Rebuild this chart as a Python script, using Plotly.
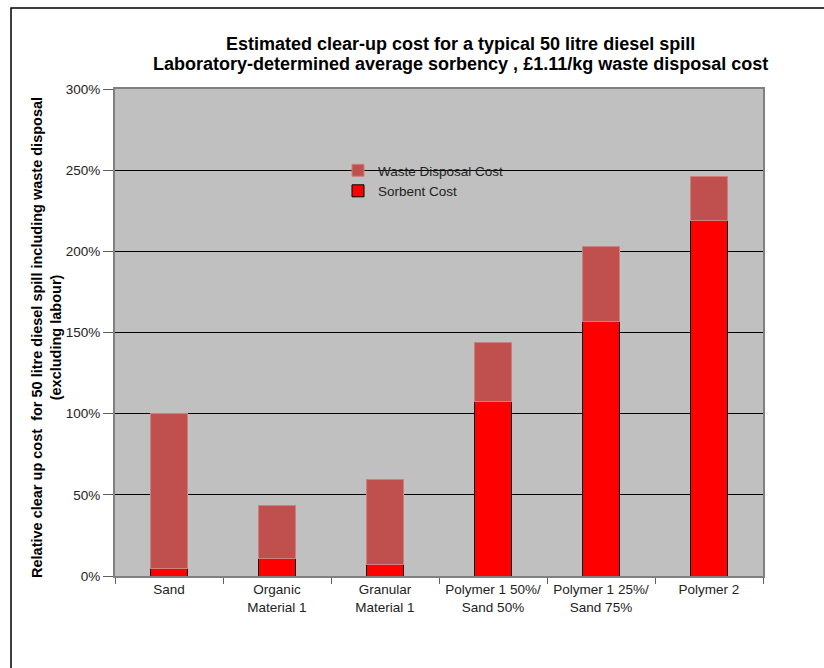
import plotly.graph_objects as go

categories = ["Sand", "Organic<br>Material 1", "Granular<br>Material 1",
              "Polymer 1 50%/<br>Sand 50%", "Polymer 1 25%/<br>Sand 75%", "Polymer 2"]
sorbent_cost = [4.5, 10.7, 7.0, 107.2, 156.6, 219.3]
waste_disposal_cost = [95.5, 32.9, 52.7, 36.8, 46.1, 26.6]
y_ticks = [0, 50, 100, 150, 200, 250, 300]
y_tick_labels = ["0%", "50%", "100%", "150%", "200%", "250%", "300%"]
title_lines = ["Estimated clear-up cost for a typical 50 litre diesel spill",
               "Laboratory-determined average sorbency , £1.11/kg waste disposal cost"]
y_title = ("Relative clear up cost  for 50 litre diesel spill including waste disposal"
           "<br>(excluding labour)")

W, H = 824, 668
L, R, T, B = 115, 763, 89, 576

fig = go.Figure()
fig.add_trace(go.Bar(
    x=categories, y=sorbent_cost, name="Sorbent Cost",
    marker=dict(color="#FF0000", line=dict(color="#000000", width=1)),
))
fig.add_trace(go.Bar(
    x=categories, y=waste_disposal_cost, name="Waste Disposal Cost",
    marker=dict(color="#C0504D", line=dict(color="#CF7F7D", width=1)),
))

def px_x(p):
    return (p - L) / (R - L)

def px_y(p):
    return (B - p) / (B - T)

fig.add_shape(type="rect", xref="paper", yref="paper",
              x0=px_x(11), x1=px_x(840), y0=px_y(8), y1=px_y(700),
              line=dict(color="#000000", width=1.5), fillcolor="rgba(0,0,0,0)",
              layer="below")

for line_text, yc in zip(title_lines, [44, 64]):
    fig.add_annotation(
        text="<b>" + line_text + "</b>", xref="paper", yref="paper",
        x=px_x(460), y=px_y(yc), xanchor="center", yanchor="middle",
        showarrow=False, font=dict(size=18, color="#000000"),
    )

fig.add_annotation(
    text="<b>" + y_title + "</b>", xref="paper", yref="paper",
    x=px_x(46), y=px_y(338), xanchor="center", yanchor="middle",
    textangle=-90, showarrow=False, font=dict(size=14.5, color="#000000"),
)

fig.update_layout(
    width=W, height=H,
    margin=dict(l=L, r=W - R, t=T, b=H - B, pad=0),
    paper_bgcolor="white", plot_bgcolor="#C0C0C0",
    barmode="stack", bargap=0.66,
    font=dict(family="Liberation Sans, Arial", size=13.5, color="#222222"),
    legend=dict(
        x=px_x(338), y=px_y(155), xanchor="left", yanchor="top",
        bgcolor="rgba(0,0,0,0)", traceorder="reversed",
        font=dict(size=13.5, color="#222222"), itemwidth=30,
        tracegroupgap=0,
    ),
    showlegend=True,
)
fig.update_xaxes(
    showline=True, linecolor="#808080", linewidth=2, mirror=True,
    ticks="outside", tickson="boundaries", ticklen=6, tickcolor="#606060",
    showgrid=False, tickfont=dict(size=13.5, color="#222222"),
)
fig.update_yaxes(
    range=[0, 300], tickvals=y_ticks, ticktext=y_tick_labels,
    showline=True, linecolor="#808080", linewidth=2, mirror=True,
    ticks="outside", ticklen=10, tickcolor="#606060",
    showgrid=True, gridcolor="#000000", gridwidth=1,
    zeroline=False, tickfont=dict(size=13.5, color="#222222"),
)

fig.write_html("out.html")
